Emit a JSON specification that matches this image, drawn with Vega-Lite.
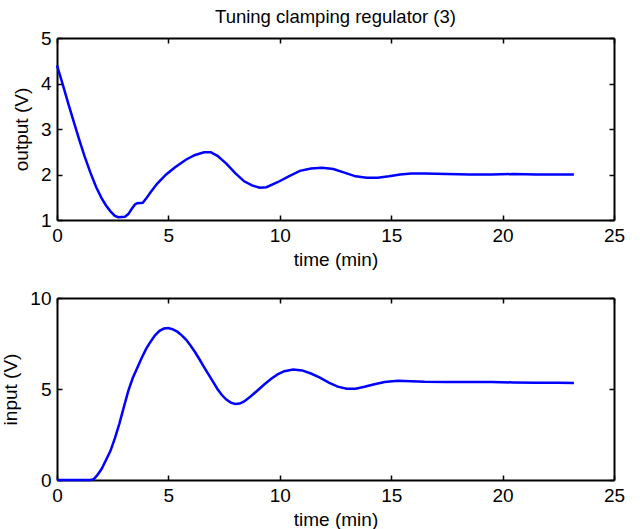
{
  "$schema": "https://vega.github.io/schema/vega-lite/v6.json",
  "background": "white",
  "padding": {"left": 1, "top": 7, "right": 5, "bottom": 5},
  "datasets": {
    "output": [
      {"t": 0, "v": 4.40}, {"t": 0.25, "v": 3.99}, {"t": 0.5, "v": 3.57}, {"t": 0.75, "v": 3.16},
      {"t": 1.0, "v": 2.76}, {"t": 1.25, "v": 2.38}, {"t": 1.5, "v": 2.04}, {"t": 1.75, "v": 1.73},
      {"t": 2.0, "v": 1.48}, {"t": 2.2, "v": 1.32}, {"t": 2.4, "v": 1.19}, {"t": 2.6, "v": 1.09},
      {"t": 2.75, "v": 1.06}, {"t": 3.05, "v": 1.07}, {"t": 3.2, "v": 1.13}, {"t": 3.35, "v": 1.24},
      {"t": 3.5, "v": 1.34}, {"t": 3.6, "v": 1.37}, {"t": 3.85, "v": 1.38}, {"t": 4.0, "v": 1.47},
      {"t": 4.2, "v": 1.61}, {"t": 4.5, "v": 1.80}, {"t": 4.9, "v": 2.00}, {"t": 5.3, "v": 2.16},
      {"t": 5.8, "v": 2.33}, {"t": 6.2, "v": 2.43}, {"t": 6.6, "v": 2.49}, {"t": 6.9, "v": 2.49},
      {"t": 7.2, "v": 2.41}, {"t": 7.6, "v": 2.24}, {"t": 8.0, "v": 2.03}, {"t": 8.4, "v": 1.85},
      {"t": 8.75, "v": 1.76}, {"t": 9.1, "v": 1.71}, {"t": 9.4, "v": 1.72}, {"t": 9.9, "v": 1.83},
      {"t": 10.4, "v": 1.96}, {"t": 10.9, "v": 2.08}, {"t": 11.4, "v": 2.13}, {"t": 11.9, "v": 2.15},
      {"t": 12.4, "v": 2.12}, {"t": 12.9, "v": 2.04}, {"t": 13.4, "v": 1.96}, {"t": 13.9, "v": 1.93},
      {"t": 14.4, "v": 1.93}, {"t": 14.9, "v": 1.96}, {"t": 15.4, "v": 2.0}, {"t": 15.9, "v": 2.02},
      {"t": 16.5, "v": 2.02}, {"t": 17.5, "v": 2.01}, {"t": 18.5, "v": 2.0}, {"t": 19.5, "v": 2.0},
      {"t": 20.5, "v": 2.01}, {"t": 21.5, "v": 2.0}, {"t": 22.5, "v": 2.0}, {"t": 23.2, "v": 2.0}
    ],
    "input": [
      {"t": 0, "v": 0}, {"t": 1.5, "v": 0}, {"t": 1.65, "v": 0.05}, {"t": 1.8, "v": 0.25},
      {"t": 2.0, "v": 0.6}, {"t": 2.2, "v": 1.1}, {"t": 2.4, "v": 1.6}, {"t": 2.6, "v": 2.3},
      {"t": 2.8, "v": 3.1}, {"t": 3.0, "v": 4.0}, {"t": 3.2, "v": 4.9}, {"t": 3.4, "v": 5.6},
      {"t": 3.6, "v": 6.15}, {"t": 3.8, "v": 6.7}, {"t": 4.0, "v": 7.2}, {"t": 4.2, "v": 7.6},
      {"t": 4.4, "v": 7.95}, {"t": 4.6, "v": 8.2}, {"t": 4.8, "v": 8.32}, {"t": 5.0, "v": 8.35},
      {"t": 5.2, "v": 8.28}, {"t": 5.4, "v": 8.15}, {"t": 5.6, "v": 7.95}, {"t": 5.8, "v": 7.7},
      {"t": 6.0, "v": 7.38}, {"t": 6.2, "v": 7.02}, {"t": 6.4, "v": 6.62}, {"t": 6.6, "v": 6.2},
      {"t": 6.8, "v": 5.8}, {"t": 7.0, "v": 5.4}, {"t": 7.2, "v": 5.0}, {"t": 7.4, "v": 4.67},
      {"t": 7.6, "v": 4.42}, {"t": 7.8, "v": 4.25}, {"t": 8.0, "v": 4.18}, {"t": 8.2, "v": 4.2},
      {"t": 8.4, "v": 4.32}, {"t": 8.7, "v": 4.6}, {"t": 9.0, "v": 4.92}, {"t": 9.3, "v": 5.25},
      {"t": 9.6, "v": 5.55}, {"t": 9.9, "v": 5.8}, {"t": 10.2, "v": 5.98}, {"t": 10.6, "v": 6.07},
      {"t": 11.0, "v": 6.02}, {"t": 11.4, "v": 5.85}, {"t": 11.8, "v": 5.62}, {"t": 12.2, "v": 5.35},
      {"t": 12.6, "v": 5.13}, {"t": 13.0, "v": 5.02}, {"t": 13.4, "v": 5.02}, {"t": 13.8, "v": 5.12},
      {"t": 14.2, "v": 5.25}, {"t": 14.7, "v": 5.38}, {"t": 15.3, "v": 5.45}, {"t": 15.9, "v": 5.43},
      {"t": 16.5, "v": 5.4}, {"t": 17.5, "v": 5.38}, {"t": 18.5, "v": 5.38}, {"t": 19.5, "v": 5.38},
      {"t": 20.5, "v": 5.36}, {"t": 21.5, "v": 5.35}, {"t": 22.5, "v": 5.34}, {"t": 23.2, "v": 5.33}
    ]
  },
  "spacing": 20,
  "vconcat": [
    {
      "width": 557,
      "height": 182,
      "title": {"text": "Tuning clamping regulator (3)", "fontSize": 18.5, "font": "Liberation Sans", "fontWeight": "normal", "color": "black", "offset": 3},
      "data": {"name": "output"},
      "layer": [
        {
          "mark": {"type": "line", "color": "#0000ff", "strokeWidth": 2.5},
          "encoding": {
            "x": {"field": "t", "type": "quantitative", "scale": {"domain": [0, 25], "nice": false}, "axis": {"values": [0, 5, 10, 15, 20, 25], "title": "time (min)"}},
            "y": {"field": "v", "type": "quantitative", "scale": {"domain": [1, 5], "nice": false, "zero": false}, "axis": {"values": [1, 2, 3, 4, 5], "title": "output (V)"}}
          }
        },
        {
          "mark": {"type": "line", "opacity": 0},
          "encoding": {
            "x": {"field": "t", "type": "quantitative", "axis": {"orient": "top", "values": [0, 5, 10, 15, 20, 25], "labels": false, "title": null}},
            "y": {"field": "v", "type": "quantitative", "axis": {"orient": "right", "values": [1, 2, 3, 4, 5], "labels": false, "title": null}}
          }
        }
      ],
      "resolve": {"axis": {"x": "independent", "y": "independent"}}
    },
    {
      "width": 557,
      "height": 182,
      "data": {"name": "input"},
      "layer": [
        {
          "mark": {"type": "line", "color": "#0000ff", "strokeWidth": 2.5},
          "encoding": {
            "x": {"field": "t", "type": "quantitative", "scale": {"domain": [0, 25], "nice": false}, "axis": {"values": [0, 5, 10, 15, 20, 25], "title": "time (min)"}},
            "y": {"field": "v", "type": "quantitative", "scale": {"domain": [0, 10], "nice": false}, "axis": {"values": [0, 5, 10], "title": "input (V)"}}
          }
        },
        {
          "mark": {"type": "line", "opacity": 0},
          "encoding": {
            "x": {"field": "t", "type": "quantitative", "axis": {"orient": "top", "values": [0, 5, 10, 15, 20, 25], "labels": false, "title": null}},
            "y": {"field": "v", "type": "quantitative", "axis": {"orient": "right", "values": [0, 5, 10], "labels": false, "title": null}}
          }
        }
      ],
      "resolve": {"axis": {"x": "independent", "y": "independent"}}
    }
  ],
  "config": {
    "view": {"stroke": null},
    "font": "Liberation Sans",
    "axis": {
      "grid": false,
      "domainColor": "black",
      "domainWidth": 2,
      "tickColor": "black",
      "tickWidth": 1.5,
      "tickSize": -5,
      "labelFont": "Liberation Sans",
      "labelFontSize": 19,
      "labelColor": "black",
      "labelFlush": false,
      "labelPadding": 11,
      "titleFont": "Liberation Sans",
      "titleFontSize": 19,
      "titleFontWeight": "normal",
      "titleColor": "black"
    },
    "axisX": {"titlePadding": 5},
    "axisY": {"titlePadding": 9}
  }
}
